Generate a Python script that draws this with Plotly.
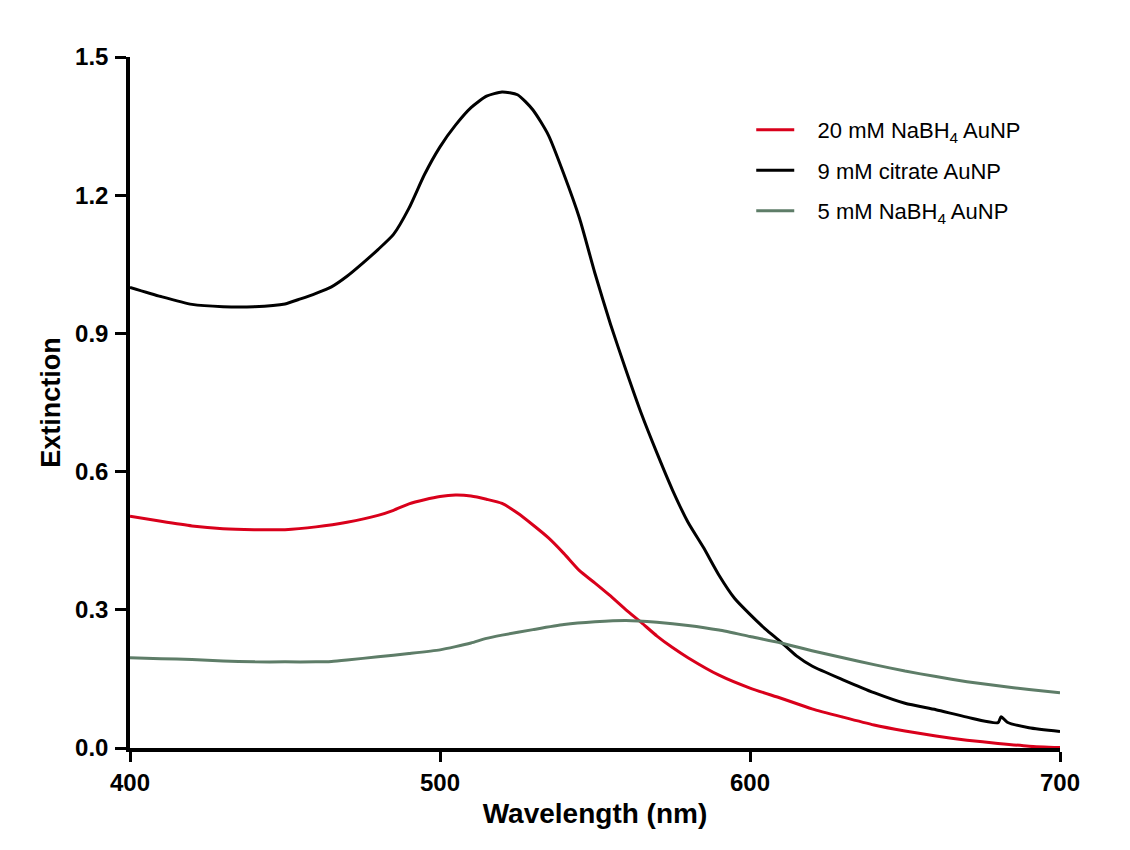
import plotly.graph_objects as go

wl_black = [400, 410, 420, 430, 440, 450, 455, 460, 465, 470, 475, 480, 485, 490, 495, 500, 505, 510, 515, 520,
            525, 530, 535, 540, 545, 550, 555, 560, 565, 570, 575, 580, 585, 590, 595, 600, 605, 610, 615, 620,
            630, 640, 650, 660, 670, 680, 681, 683, 690, 700]
ext_black = [1.000, 0.980, 0.963, 0.958, 0.958, 0.964, 0.975, 0.987, 1.001, 1.024, 1.052, 1.082, 1.115, 1.172, 1.245,
             1.305, 1.352, 1.390, 1.415, 1.424, 1.418, 1.385, 1.330, 1.245, 1.150, 1.030, 0.920, 0.820, 0.725, 0.640,
             0.560, 0.490, 0.435, 0.375, 0.325, 0.290, 0.258, 0.230, 0.200, 0.178, 0.148, 0.120, 0.097, 0.083, 0.067,
             0.055, 0.068, 0.056, 0.044, 0.036]

wl_red = [400, 410, 420, 430, 440, 450, 460, 470, 480, 485, 490, 495, 500, 505, 510, 515, 520, 525, 530, 535,
          540, 545, 550, 555, 560, 565, 570, 575, 580, 590, 600, 610, 620, 630, 640, 650, 660, 670, 680, 690, 700]
ext_red = [0.503, 0.492, 0.482, 0.476, 0.474, 0.474, 0.480, 0.490, 0.505, 0.516, 0.530, 0.539, 0.546, 0.549, 0.547,
           0.540, 0.531, 0.510, 0.484, 0.456, 0.422, 0.385, 0.358, 0.330, 0.300, 0.272, 0.243, 0.218, 0.196, 0.158,
           0.130, 0.108, 0.085, 0.067, 0.050, 0.037, 0.026, 0.017, 0.010, 0.004, 0.001]

wl_green = [400, 410, 420, 430, 440, 450, 460, 465, 470, 480, 490, 500, 505, 510, 515, 520, 530, 540, 550, 560,
            570, 580, 590, 600, 610, 620, 630, 640, 650, 660, 670, 680, 690, 700]
ext_green = [0.196, 0.194, 0.192, 0.189, 0.187, 0.187, 0.187, 0.188, 0.191, 0.198, 0.205, 0.213, 0.220, 0.228, 0.238,
             0.245, 0.257, 0.268, 0.274, 0.277, 0.273, 0.266, 0.256, 0.242, 0.228, 0.211, 0.196, 0.181, 0.167, 0.155,
             0.144, 0.135, 0.127, 0.120]

names = ["20 mM NaBH<sub>4</sub> AuNP", "9 mM citrate AuNP", "5 mM NaBH<sub>4</sub> AuNP"]
colors = ["#D9001B", "#000000", "#5E7D68"]

FONT = "Liberation Sans, Arial, sans-serif"
PAD = "&nbsp;&nbsp;&nbsp;"

fig = go.Figure()
for i, (x, y, n, c) in enumerate(zip([wl_red, wl_black, wl_green], [ext_red, ext_black, ext_green], names, colors)):
    fig.add_trace(go.Scatter(x=x, y=y, mode="lines", name=PAD + n, legendgroup=f"g{i}",
                             line=dict(color=c, width=3, shape="spline", smoothing=0.6)))

fig.update_layout(
    width=1130, height=850,
    margin=dict(l=130, r=70, t=57, b=102),
    paper_bgcolor="white", plot_bgcolor="white",
    font=dict(family=FONT, color="black"),
    showlegend=True,
    legend=dict(x=0.668, y=0.925, xanchor="left", yanchor="top",
                font=dict(size=22, family=FONT, color="black"),
                bgcolor="rgba(0,0,0,0)", tracegroupgap=9, itemwidth=38),
    xaxis=dict(range=[400, 700], tickvals=[400, 500, 600, 700],
               showline=True, linecolor="black", linewidth=3.5,
               ticks="outside", ticklen=10, tickwidth=3, tickcolor="black",
               showgrid=False, zeroline=False, ticklabelstandoff=0,
               tickfont=dict(size=24, family=FONT, color="black", weight="bold"),
               title=dict(text="<b>Wavelength (nm)</b>", font=dict(size=28, family=FONT), standoff=10)),
    yaxis=dict(range=[0, 1.5], tickvals=[0, 0.3, 0.6, 0.9, 1.2, 1.5],
               ticktext=["0.0", "0.3", "0.6", "0.9", "1.2", "1.5"],
               showline=True, linecolor="black", linewidth=3.5,
               ticks="outside", ticklen=11, tickwidth=3, tickcolor="black",
               showgrid=False, zeroline=False, ticklabelstandoff=2,
               tickfont=dict(size=24, family=FONT, color="black", weight="bold"),
               title=dict(text="<b>Extinction</b>", font=dict(size=27, family=FONT), standoff=8)),
)

fig.write_html("out.html")
